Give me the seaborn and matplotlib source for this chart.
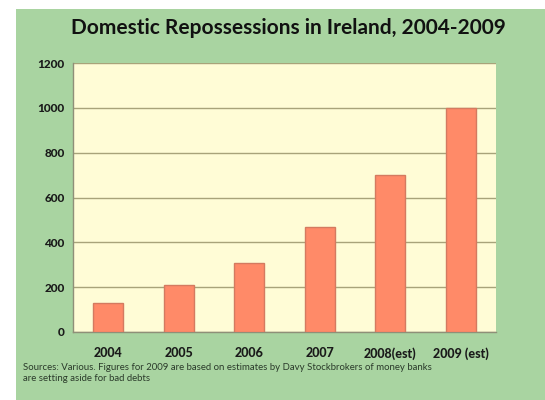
import matplotlib
matplotlib.use("Agg")
import matplotlib.pyplot as plt
import seaborn as sns
import pandas as pd
from matplotlib.patches import Rectangle

years = ["2004", "2005", "2006", "2007", "2008(est)", "2009 (est)"]
repossessions = [130, 210, 310, 470, 700, 1000]
y_ticks = [0, 200, 400, 600, 800, 1000, 1200]

title = "Domestic Repossessions in Ireland, 2004-2009"
note = ("Sources: Various. Figures for 2009 are based on estimates by Davy Stockbrokers of money banks\n"
        "are setting aside for bad debts")

df = pd.DataFrame({"year": years, "value": repossessions})

sns.set_theme(style="white")
plt.rcParams['font.family'] = ['Lato', 'DejaVu Sans']

green = "#a9d4a1"
cream = "#fffcd6"
bar_col = "#ff8a68"
grid_col = "#a8a37a"

fig = plt.figure(figsize=(5.45, 4.0), dpi=100)
fig.patch.set_facecolor("white")
fig.patches.append(Rectangle((16/545, 0), 1 - 16/545, 1 - 9/400, transform=fig.transFigure,
                             facecolor=green, edgecolor="none", zorder=-10))

ax = fig.add_axes([73/545, 1 - 332/400, (496 - 73)/545, (332 - 63)/400])
ax.set_facecolor(cream)
sns.barplot(data=df, x="year", y="value", color=bar_col, width=0.42,
            edgecolor="#d47a60", linewidth=1.0, saturation=1, ax=ax, zorder=3)

ax.set_ylim(0, 1200)
ax.set_xlim(-0.5, len(years) - 0.5)
ax.set_yticks(y_ticks)
ax.set_yticklabels([str(t) for t in y_ticks], fontsize=8.5, fontweight="black", color="#1a1a1a")
ax.set_xticks(range(len(years)))
ax.set_xticklabels(years, fontsize=9, fontweight="black", color="#1a1a1a")
ax.set_xticks([i + 0.5 for i in range(-1, len(years))], minor=True)
ax.tick_params(axis="x", which="major", length=0, pad=11)
ax.tick_params(axis="x", which="minor", length=3, color="#8a8a70", width=0.8, direction="out")
ax.tick_params(axis="y", which="major", length=3, color="#8a8a70", width=0.8, direction="out", pad=3)
ax.yaxis.grid(True, color=grid_col, linewidth=1.0, zorder=0)
ax.set_axisbelow(True)
ax.set_xlabel("")
ax.set_ylabel("")
for s in ["top", "right"]:
    ax.spines[s].set_visible(False)
for s in ["left", "bottom"]:
    ax.spines[s].set_color("#8f8f78")
    ax.spines[s].set_linewidth(1.0)

fig.text(288/545, 1 - 28/400, title, ha="center", va="center", fontsize=15,
         fontweight="bold", color="#111111")
fig.text(23/545, 1 - 373/400, note, ha="left", va="center", fontsize=6.9,
         color="#2a3a2a", linespacing=1.2)

fig.savefig("out.png", dpi=100)
